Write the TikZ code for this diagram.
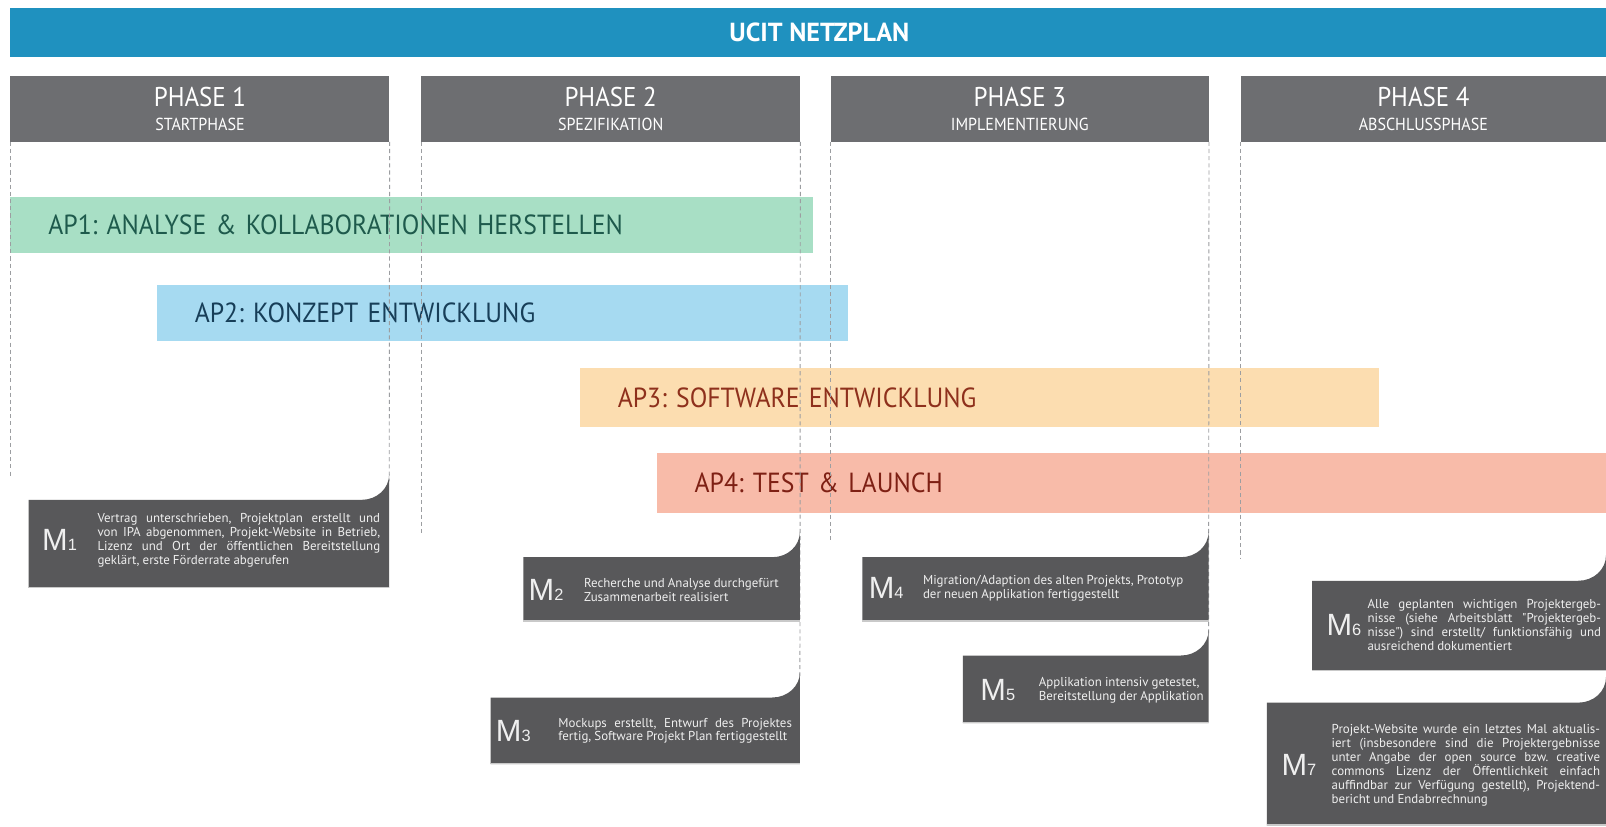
\documentclass[tikz,border=0pt]{standalone}
\usepackage{fontspec}
\setmainfont{PT Sans}
\newfontfamily\mfont{Liberation Sans}
\newfontfamily\condfont[FakeStretch=0.92]{PT Sans}
\newfontfamily\apfont[FakeStretch=0.93, WordSpace=0.7]{PT Sans}
\newfontfamily\bodyfont[WordSpace=0.9]{PT Sans}

\definecolor{titleblue}{HTML}{1F91BF}
\definecolor{phasegray}{HTML}{6D6E71}
\definecolor{msgray}{HTML}{58585A}
\definecolor{msedge}{HTML}{C9C9C9}
\definecolor{guidegray}{HTML}{9C9EA1}
\definecolor{msfg}{HTML}{EFEFEF}
\definecolor{apgreen}{HTML}{A8DFC5}
\definecolor{apgreentext}{HTML}{1E5A4C}
\definecolor{apblue}{HTML}{A6DAF1}
\definecolor{apbluetext}{HTML}{173E58}
\definecolor{aporange}{HTML}{FCDDB0}
\definecolor{aporangetext}{HTML}{8E301C}
\definecolor{apred}{HTML}{F8BBA9}
\definecolor{apredtext}{HTML}{7E2014}

% milestone plate: x-left, x-right, top of plate, bottom of plate
% the tab rises 25pt at the right edge with a rounded inner corner
\newcommand\msplate[4]{%
  \fill[msgray] (#1,#3) -- (#2-27,#3)
    .. controls (#2-12,#3) and (#2,#3-11) .. (#2,#3-25)
    -- (#2,#4) -- (#1,#4) -- cycle;
  \draw[msedge, line width=1.2pt] (#1,#4-0.6) -- (#2,#4-0.6);
}

\tikzset{
  phasebox/.style={anchor=north west, fill=phasegray, text=white, inner sep=0pt,
    minimum height=64pt, align=center, font=\condfont\fontsize{17}{23}\selectfont},
  apbar/.style={anchor=north west, inner ysep=0pt, inner xsep=37pt, align=left,
    font=\apfont\fontsize{27}{27}\selectfont\frenchspacing},
  guide/.style={draw=guidegray, line width=0.9pt, dash pattern=on 4pt off 3pt},
  mstext/.style={text=msfg, inner sep=0pt,
    font=\bodyfont\fontsize{12.6}{13.6}\selectfont\frenchspacing},
  mslabel/.style={text=msfg, inner sep=0pt, anchor=west, font=\mfont},
}
\newcommand\mtag[1]{{\fontsize{30}{30}\selectfont M}{\fontsize{16}{16}\selectfont #1}}

\begin{document}
\begin{tikzpicture}[x=1pt, y=-1pt]
\useasboundingbox (0,0) rectangle (1568,807);
\fill[white] (0,0) rectangle (1568,807);

% title banner
\node[anchor=north west, fill=titleblue, minimum width=1558pt, minimum height=47pt,
  inner sep=0pt] (banner) at (10,8) {};
\node[text=white, font=\bfseries\fontsize{25.5}{25.5}\selectfont] (title) at (800,32) {UCIT NETZPLAN};

% phase headers
\node[phasebox, minimum width=370pt] (ph1) at (10,74)
  {{\fontsize{26.5}{23}\selectfont PHASE 1}\\STARTPHASE};
\node[phasebox, minimum width=370pt] (ph2) at (411,74)
  {{\fontsize{26.5}{23}\selectfont PHASE 2}\\SPEZIFIKATION};
\node[phasebox, minimum width=369pt] (ph3) at (811,74)
  {{\fontsize{26.5}{23}\selectfont PHASE 3}\\IMPLEMENTIERUNG};
\node[phasebox, minimum width=357pt] (ph4) at (1211,74)
  {{\fontsize{26.5}{23}\selectfont PHASE 4}\\ABSCHLUSSPHASE};

% work packages
\node[apbar, fill=apgreen, text=apgreentext, text width=710pt, minimum height=55pt]
  (ap1) at (10,192) {AP1: ANALYSE \& KOLLABORATIONEN HERSTELLEN};
\node[apbar, fill=apblue, text=apbluetext, text width=601pt, minimum height=55pt]
  (ap2) at (153,278) {AP2: KONZEPT ENTWICKLUNG};
\node[apbar, fill=aporange, text=aporangetext, text width=706pt, minimum height=58pt]
  (ap3) at (566,359) {AP3: SOFTWARE ENTWICKLUNG};
\node[apbar, fill=apred, text=apredtext, text width=853pt, minimum height=59pt]
  (ap4) at (641,442) {AP4: TEST \& LAUNCH};

% phase guide lines
\coordinate (g1a) at (10,466);
\coordinate (g1b) at (380,470);
\coordinate (g2a) at (411,522);
\coordinate (g2b) at (781,660);
\coordinate (g3a) at (811,530);
\coordinate (g3b) at (1180,620);
\coordinate (g4a) at (1211,545);
\draw[guide] (ph1.south west) -- (g1a);
\draw[guide] (ph1.south east) -- (g1b);
\draw[guide] (ph2.south west) -- (g2a);
\draw[guide] (ph2.south east) -- (g2b);
\draw[guide] (ph3.south west) -- (g3a);
\draw[guide] (ph3.south east) -- (g3b);
\draw[guide] (ph4.south west) -- (g4a);

% milestone plates
\msplate{28}{380}{488}{574}
\msplate{511}{781}{544}{607}
\msplate{479}{781}{681}{746}
\msplate{842}{1180}{544}{607}
\msplate{940}{1180}{640}{706}
\msplate{1281}{1568}{567}{655}
\msplate{1237}{1568}{686}{806}

% milestone texts
\node[mstext, anchor=west, text width=276pt, align=justify] (m1t) at (95,527.5)
  {Vertrag unterschrieben, Projektplan erstellt und\linebreak
   von IPA abgenommen, Projekt-Website in Betrieb,\linebreak
   Lizenz und Ort der öffentlichen Bereitstellung\linebreak
   geklärt, erste Förderrate abgerufen};
\node[mslabel] (m1) at (41,527.5) {\mtag{1}};

\node[mstext, anchor=west, align=left] (m2t) at (570,576)
  {Recherche und Analyse durchgefürt\\Zusammenarbeit realisiert};
\node[mslabel] (m2) at (516,576) {\mtag{2}};

\node[mstext, anchor=west, text width=228pt, align=justify] (m3t) at (545,713.5)
  {Mockups erstellt, Entwurf des Projektes\linebreak
   fertig, Software Projekt Plan fertiggestellt};
\node[mslabel] (m3) at (484,713.5) {\mtag{3}};

\node[mstext, anchor=west, align=left] (m4t) at (901,574)
  {Migration/Adaption des alten Projekts, Prototyp\\der neuen Applikation fertiggestellt};
\node[mslabel] (m4) at (848,574) {\mtag{4}};

\node[mstext, anchor=west, align=left] (m5t) at (1014,674)
  {Applikation intensiv getestet,\\Bereitstellung der Applikation};
\node[mslabel] (m5) at (957,674) {\mtag{5}};

\node[mstext, anchor=west, text width=228pt, align=justify] (m6t) at (1335,610)
  {Alle geplanten wichtigen Projektergeb-\linebreak
   nisse (siehe Arbeitsblatt "Projektergeb-\linebreak
   nisse") sind erstellt/ funktionsfähig und\linebreak
   ausreichend dokumentiert};
\node[mslabel] (m6) at (1295,610) {\mtag{6}};

\node[mstext, anchor=west, text width=262pt, align=justify] (m7t) at (1300,747)
  {Projekt-Website wurde ein letztes Mal aktualis-\linebreak
   iert (insbesondere sind die Projektergebnisse\linebreak
   unter Angabe der open source bzw. creative\linebreak
   commons Lizenz der Öffentlichkeit einfach\linebreak
   auffindbar zur Verfügung gestellt), Projektend-\linebreak
   bericht und Endabrrechnung};
\node[mslabel] (m7) at (1251,747) {\mtag{7}};
\end{tikzpicture}
\end{document}
